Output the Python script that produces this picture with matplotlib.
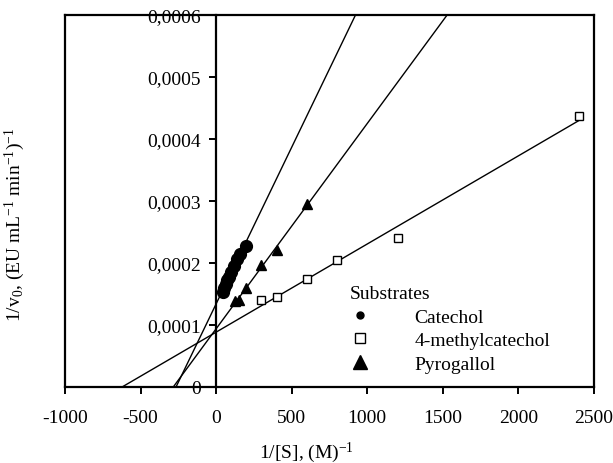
import numpy as np
import matplotlib
matplotlib.use("Agg")
import matplotlib.pyplot as plt
from matplotlib.lines import Line2D

plt.rcParams['font.family'] = 'Liberation Serif'
plt.rcParams['mathtext.fontset'] = 'custom'
plt.rcParams['mathtext.rm'] = 'Liberation Serif'
plt.rcParams['mathtext.it'] = 'Liberation Serif:italic'

# Lineweaver-Burk data: 1/[S] vs 1/v0
catechol_x = [45, 55, 65, 75, 85, 100, 115, 135, 160, 195]
catechol_y = [0.000153, 0.000160, 0.000166, 0.000172, 0.000178,
              0.000186, 0.000195, 0.000207, 0.000215, 0.000227]

methyl_x = [300, 400, 600, 800, 1200, 2400]
methyl_y = [0.000140, 0.000145, 0.000174, 0.000204, 0.000240, 0.000437]

pyro_x = [125, 150, 200, 300, 400, 600]
pyro_y = [0.000139, 0.000140, 0.000160, 0.000196, 0.000220, 0.000295]

xticks = [-1000, -500, 0, 500, 1000, 1500, 2000, 2500]
yticks = [0, 0.0001, 0.0002, 0.0003, 0.0004, 0.0005, 0.0006]
ytick_labels = ['0', '0,0001', '0,0002', '0,0003', '0,0004', '0,0005', '0,0006']

xmin, xmax = -1000, 2500
ymin, ymax = 0, 0.0006

fig = plt.figure(figsize=(6.13, 4.64), dpi=100)
ax = fig.add_axes([0.106, 0.164, 0.863, 0.802])


def fit_line(x, y, x_end=None):
    m, b = np.polyfit(x, y, 1)
    x0 = -b / m
    if x_end is None:
        x_end = (ymax - b) / m
    xs = np.array([x0, x_end])
    ax.plot(xs, m * xs + b, color='black', lw=1.0, zorder=2)


fit_line(catechol_x, catechol_y)
fit_line(pyro_x, pyro_y)
fit_line(methyl_x, methyl_y, x_end=max(methyl_x))

ax.plot(catechol_x, catechol_y, 'o', color='black', ms=8.5, zorder=3)
ax.plot(methyl_x, methyl_y, 's', mfc='white', mec='black', mew=1.0, ms=5.5, zorder=3)
ax.plot(pyro_x, pyro_y, '^', color='black', ms=7, zorder=3)

ax.set_xlim(xmin, xmax)
ax.set_ylim(ymin, ymax)

# y axis sits at x = 0, frame kept all round
ax.spines['left'].set_position(('data', 0))
for s in ax.spines.values():
    s.set_linewidth(1.6)
ax.axvline(xmin, color='black', lw=1.6, clip_on=False)

ax.set_xticks(xticks)
ax.set_xticklabels([str(v) for v in xticks])
ax.set_yticks(yticks)
ax.set_yticklabels(ytick_labels)
ax.tick_params(axis='x', direction='out', length=5, width=1.4, pad=11, labelsize=14)
ax.tick_params(axis='y', direction='out', length=5, width=1.4, pad=6, labelsize=14)

fig.text(0.5, 0.025, r'1/[S], (M)$^{-1}$', ha='center', va='center', fontsize=14)
fig.text(0.024, 0.515, r'1/v$_0$, (EU mL$^{-1}$ min$^{-1}$)$^{-1}$',
         ha='center', va='center', rotation=90, fontsize=14)

handles = [
    Line2D([], [], ls='none', marker='o', color='black', ms=5),
    Line2D([], [], ls='none', marker='s', mfc='white', mec='black', ms=6.5),
    Line2D([], [], ls='none', marker='^', color='black', ms=10),
]
labels = ['Catechol', '4-methylcatechol', 'Pyrogallol']
leg = ax.legend(handles, labels, title='Substrates', frameon=False,
                loc='upper left', bbox_to_anchor=(0.571, 0.383),
                bbox_transform=fig.transFigure, fontsize=14, title_fontsize=14,
                handlelength=1.0, handletextpad=2.3, labelspacing=0.3,
                borderaxespad=0, borderpad=0)
leg._legend_box.align = 'left'

fig.savefig('out.png', dpi=100)
